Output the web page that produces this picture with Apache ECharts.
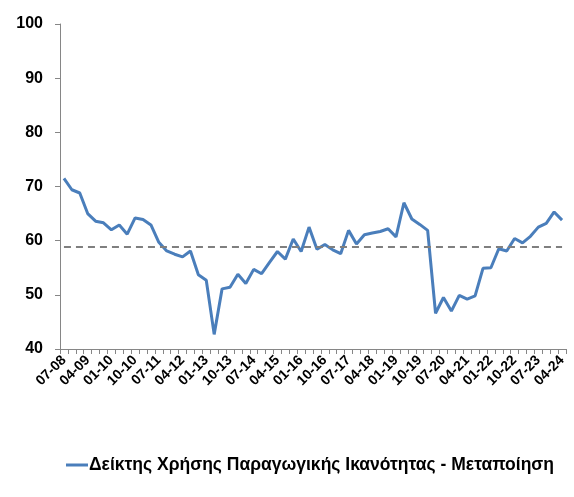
<!DOCTYPE html>
<html>
<head>
  <meta charset="utf-8" />
  <title>Capacity utilisation</title>
  <script src="https://cdn.jsdelivr.net/npm/echarts@6/dist/echarts.min.js"></script>
</head>
<style>
  body { margin: 0; padding: 0; overflow: hidden; background: #fff; }
</style>
<body>
  <div id="main" style="width: 574px; height: 497px;"></div>
  <script type="text/javascript">
    // quarters 07-08 .. 04-24
    const quarters = [];
    for (let y = 8; y <= 24; y++) {
      ['01', '04', '07', '10'].forEach(m => {
        if ((y === 8 && (m === '01' || m === '04')) || (y === 24 && (m === '07' || m === '10'))) return;
        quarters.push(m + '-' + String(y).padStart(2, '0'));
      });
    }

    const seriesName = 'Δείκτης Χρήσης Παραγωγικής Ικανότητας - Μεταποίηση';
    const utilisation = [
      71.5, 69.4, 68.8, 65.0, 63.6, 63.3, 62.0, 62.9, 61.2, 64.2, 63.9, 62.9,
      59.7, 58.1, 57.5, 57.0, 58.1, 53.7, 52.7, 42.7, 51.1, 51.4, 53.8, 52.1,
      54.7, 53.9, 56.0, 58.0, 56.6, 60.3, 58.0, 62.5, 58.4, 59.3, 58.3, 57.6,
      61.9, 59.4, 61.1, 61.4, 61.7, 62.2, 60.7, 67.0, 64.0, 63.0, 61.9, 46.6,
      49.5, 47.0, 49.9, 49.2, 49.8, 54.9, 55.0, 58.5, 58.1, 60.4, 59.6, 60.8,
      62.5, 63.2, 65.3, 63.8
    ];
    const longRunAvg = 58.8;
    const yTicks = [40, 100, 10]; // min, max, step

    const myChart = echarts.init(document.getElementById('main'));
    const labelFont = 'Liberation Sans, Arial, sans-serif';

    const option = {
      animation: false,
      grid: { left: 60, right: 8, top: 24, bottom: 148 },
      legend: {
        left: 61,
        top: 451,
        icon: 'rect',
        itemWidth: 22,
        itemHeight: 3,
        itemGap: 4,
        textStyle: { fontFamily: labelFont, fontWeight: 'bold', fontSize: 17.5, color: '#000', padding: [0, 0, 0, -4] },
        data: [seriesName]
      },
      xAxis: {
        type: 'category',
        data: quarters,
        boundaryGap: true,
        axisLine: { lineStyle: { color: '#868686', width: 1 } },
        axisTick: { show: true, interval: 0, length: 5, lineStyle: { color: '#868686' } },
        axisLabel: {
          interval: 2,
          rotate: 45,
          margin: 9,
          fontFamily: labelFont,
          fontWeight: 'bold',
          fontSize: 14,
          color: '#000'
        }
      },
      yAxis: {
        type: 'value',
        min: yTicks[0],
        max: yTicks[1],
        interval: yTicks[2],
        splitLine: { show: false },
        axisLine: { show: true, lineStyle: { color: '#868686', width: 1 } },
        axisTick: { show: true, length: 5, lineStyle: { color: '#868686' } },
        axisLabel: {
          margin: 17,
          fontFamily: labelFont,
          fontWeight: 'bold',
          fontSize: 16,
          color: '#000'
        }
      },
      series: [
        {
          name: seriesName,
          type: 'line',
          data: utilisation,
          symbol: 'none',
          lineStyle: { color: '#4a7ebb', width: 3 },
          itemStyle: { color: '#4a7ebb' },
          markLine: {
            silent: true,
            symbol: 'none',
            label: { show: false },
            lineStyle: { color: '#7f7f7f', type: [7, 5], width: 2 },
            data: [[
              { coord: [quarters[0], longRunAvg] },
              { coord: [quarters[quarters.length - 1], longRunAvg] }
            ]]
          }
        }
      ]
    };
    myChart.setOption(option);
  </script>
</body>
</html>
